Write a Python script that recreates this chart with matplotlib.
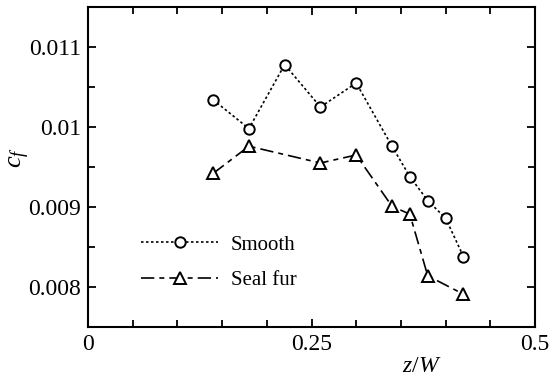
import matplotlib
matplotlib.use("Agg")
import matplotlib.pyplot as plt
from matplotlib.ticker import MultipleLocator, FixedLocator, FixedFormatter

plt.rcParams['font.family'] = ['Liberation Serif', 'DejaVu Serif']
plt.rcParams['mathtext.fontset'] = 'custom'
plt.rcParams['mathtext.it'] = 'Liberation Serif:italic'
plt.rcParams['mathtext.rm'] = 'Liberation Serif'

smooth_x = [0.14, 0.18, 0.22, 0.26, 0.30, 0.34, 0.36, 0.38, 0.40, 0.42]
smooth_cf = [0.01034, 0.00998, 0.01078, 0.01025, 0.01055, 0.00976, 0.00938, 0.00908, 0.00886, 0.00838]

seal_x = [0.14, 0.18, 0.26, 0.30, 0.34, 0.36, 0.38, 0.42]
seal_cf = [0.00942, 0.00976, 0.00955, 0.00965, 0.00901, 0.00891, 0.00814, 0.00791]

x_ticks = [0, 0.25, 0.5]
x_tick_labels = ['0', '0.25', '0.5']
y_ticks = [0.008, 0.009, 0.01, 0.011]
y_tick_labels = ['0.008', '0.009', '0.01', '0.011']

fig = plt.figure(figsize=(5.5, 3.79), dpi=100)
ax = fig.add_axes([88/550, 1 - 327/379, (535-88)/550, (327-7)/379])

ax.plot(smooth_x, smooth_cf, linestyle=(0, (1.5, 1.5)), color='black', lw=1.2,
        marker='o', ms=7.5, mfc='white', mec='black', mew=1.4, label='Smooth')
ax.plot(seal_x, seal_cf, linestyle=(0, (8, 3, 3, 3)), color='black', lw=1.2,
        marker='^', ms=8.5, mfc='white', mec='black', mew=1.4, label='Seal fur')

ax.set_xlim(0, 0.5)
ax.set_ylim(0.0075, 0.0115)
ax.xaxis.set_major_locator(FixedLocator(x_ticks))
ax.xaxis.set_major_formatter(FixedFormatter(x_tick_labels))
ax.xaxis.set_minor_locator(MultipleLocator(0.05))
ax.yaxis.set_major_locator(FixedLocator(y_ticks))
ax.yaxis.set_major_formatter(FixedFormatter(y_tick_labels))
ax.yaxis.set_minor_locator(MultipleLocator(0.0005))

ax.tick_params(which='both', direction='in', top=True, right=True, labelsize=17, width=1.3)
ax.tick_params(which='major', length=6, pad=5)
ax.tick_params(which='minor', length=5)
for s in ax.spines.values():
    s.set_linewidth(1.5)

ax.set_xlabel('$z/W$', fontsize=17, va='center', ha='center')
ax.xaxis.set_label_coords(0.747, -0.125)
ax.set_ylabel('$c_f$', fontsize=19, va='center', ha='center')
ax.yaxis.set_label_coords(-0.152, 0.53)

ax.legend(loc='lower left', bbox_to_anchor=(0.1, 0.09), frameon=False, fontsize=15,
          handlelength=3.7, handletextpad=0.6, labelspacing=0.75, borderaxespad=0)

fig.savefig('out.png', dpi=100)
